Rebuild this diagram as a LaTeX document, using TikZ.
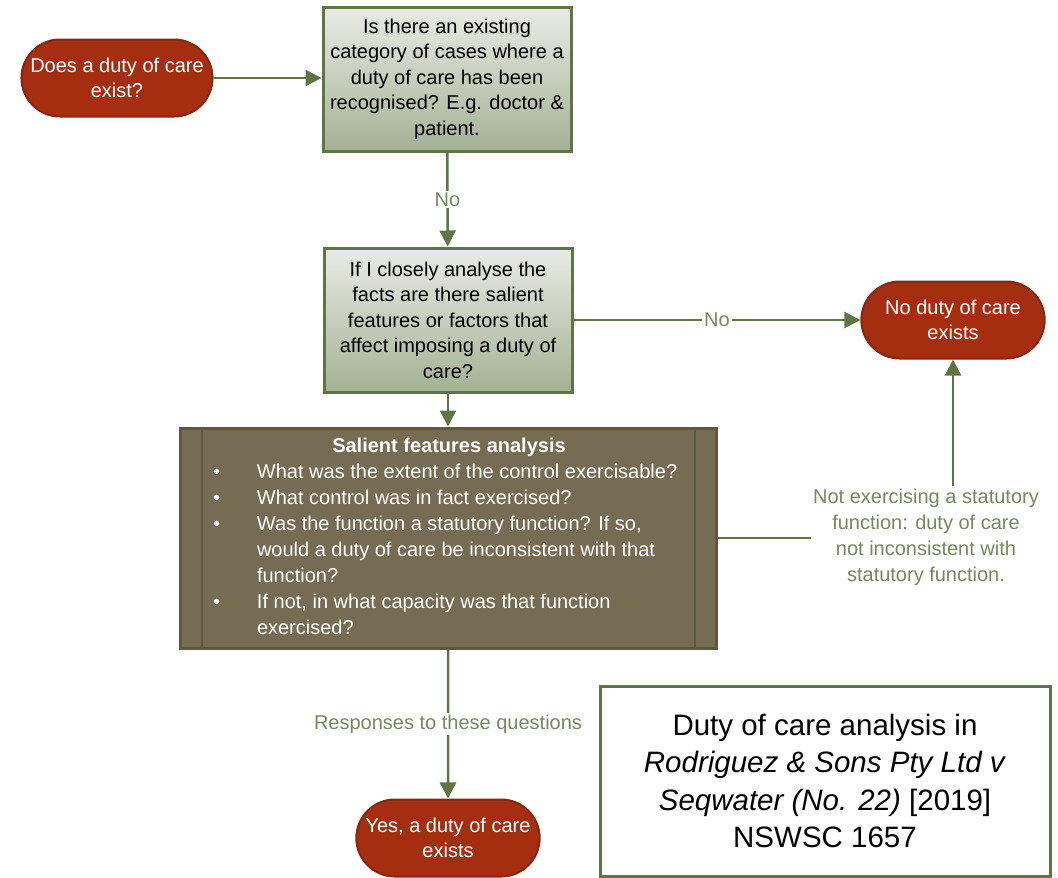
\documentclass[tikz,border=0pt]{standalone}
\usepackage{fontspec}
\setmainfont{Liberation Sans}
\usetikzlibrary{positioning, arrows.meta, shapes.misc}

\definecolor{dutyred}{RGB}{165,46,16}
\definecolor{dutyredline}{RGB}{136,38,14}
\definecolor{flowgreen}{RGB}{95,117,70}
\definecolor{labelgreen}{RGB}{118,137,94}
\definecolor{boxtop}{RGB}{233,235,229}
\definecolor{boxbottom}{RGB}{164,177,148}
\definecolor{salientfill}{RGB}{118,108,83}
\definecolor{salientline}{RGB}{94,87,66}

\tikzset{
	terminal/.style = {rounded rectangle, fill = dutyred, draw = dutyredline, line width = 2pt, text = white, minimum width = 190pt, minimum height = 77pt, align = center, font = \fontsize{20}{25}\selectfont},
	question/.style = {rectangle, top color = boxtop, bottom color = boxbottom, draw = flowgreen, line width = 3pt, minimum width = 248pt, minimum height = 144pt, align = center, font = \fontsize{20}{25.5}\selectfont},
	flow/.style = {draw = flowgreen, line width = 2.5pt, -{Triangle[length = 16pt, width = 16pt]}},
	flowlabel/.style = {text = labelgreen, fill = white, inner sep = 2pt, align = center, font = \fontsize{20}{26}\selectfont}
}

\begin{document}
\begin{tikzpicture}[x = 1pt, y = -1pt]
		\fill[white] (0, 0) rectangle (1058, 878);
		\useasboundingbox (0, 0) rectangle (1058, 878);

		\node[terminal] (start) at (117, 78) {Does a duty of care\\ exist?};
		\node[question] (existing) at (447, 79) {Is there an existing\\ category of cases where a\\ duty of care has been\\ recognised? E.g. doctor \&\\ patient.};
		\node[question] (salientq) at (448, 320) {If I closely analyse the\\ facts are there salient\\ features or factors that\\ affect imposing a duty of\\ care?};
		\node[terminal] (noduty) at (953, 320) {No duty of care\\ exists};
		\node[rectangle, fill = salientfill, draw = salientline, line width = 3pt, minimum width = 536pt, minimum height = 220pt] (salient) at (448, 538) {};
		\draw[salientline, line width = 2pt] ([xshift = 23pt]salient.north west) -- ([xshift = 23pt]salient.south west);
		\draw[salientline, line width = 2pt] ([xshift = -23pt]salient.north east) -- ([xshift = -23pt]salient.south east);
		\node[text = white, inner sep = 0pt, font = \fontsize{20}{26}\selectfont] (salientlist) at (449, 538) {%
			\begin{tabular}{@{}p{52pt}@{}p{436pt}@{}}
				\multicolumn{2}{@{}c@{}}{\bfseries Salient features analysis}\\
				\hspace*{8pt}\textbullet & What was the extent of the control exercisable?\\
				\hspace*{8pt}\textbullet & What control was in fact exercised?\\
				\hspace*{8pt}\textbullet & Was the function a statutory function? If so,\\
				& would a duty of care be inconsistent with that\\
				& function?\\
				\hspace*{8pt}\textbullet & If not, in what capacity was that function\\
				& exercised?
			\end{tabular}};
		\node[flowlabel] (notstatutory) at (926, 537) {Not exercising a statutory\\ function: duty of care\\ not inconsistent with\\ statutory function.};
		\node[terminal] (yes) at (448, 838) {Yes, a duty of care\\ exists};
		\node[rectangle, draw = flowgreen, line width = 3pt, fill = white, minimum width = 450pt, minimum height = 190pt, align = center, font = \fontsize{29.5}{37.5}\selectfont] (citation) at (825, 781) {Duty of care analysis in\\ \textit{Rodriguez \& Sons Pty Ltd v}\\ \textit{Seqwater (No. 22)} [2019]\\ NSWSC 1657};

		\draw[flow] (start.east) -- (start.east -| existing.west);
		\draw[flow] (existing) -- node[flowlabel] {No} (salientq);
		\draw[flow] (salientq) -- node[flowlabel] {No} (noduty);
		\draw[flow] (salientq) -- (salient);
		\draw[flowgreen, line width = 2.5pt] (salient.east) -- (salient.east -| notstatutory.west);
		\draw[flow] (notstatutory.north -| noduty.south) -- (noduty.south);
		\draw[flow] (salient) -- node[flowlabel] {Responses to these questions} (yes);
\end{tikzpicture}
\end{document}
